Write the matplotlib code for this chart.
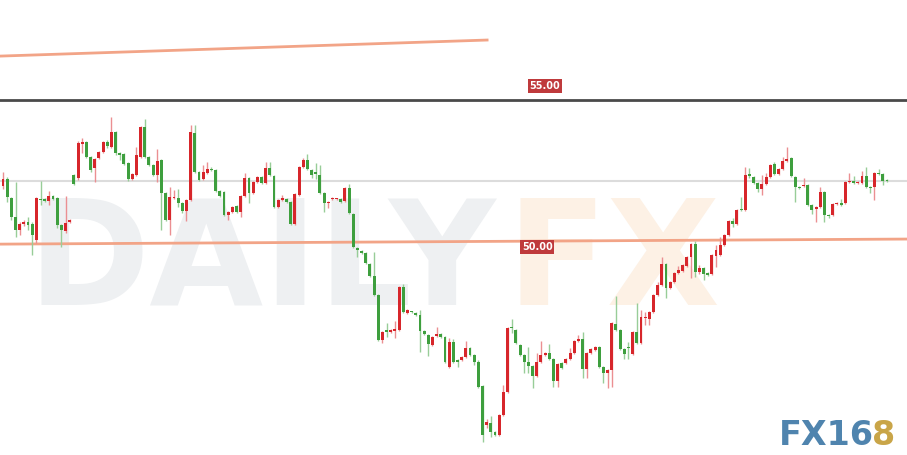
import matplotlib
matplotlib.use("Agg")
import matplotlib.pyplot as plt
import numpy as np

# OHLC values (one candle per bar, oldest first)
opens = [51.95, 52.20, 51.52, 50.85, 50.39, 50.60, 50.67, 50.60, 50.04, 51.49,
         51.49, 51.42, 51.60, 51.52, 50.57, 50.35, 50.67, 52.34, 52.23, 53.44,
         53.51, 52.98, 52.59, 52.94, 53.16, 53.51, 53.33, 53.87, 53.12, 53.09,
         52.77, 52.20, 52.34, 52.98, 54.04, 52.98, 52.70, 52.34, 52.87, 51.70,
         50.74, 51.52, 51.52, 51.35, 51.06, 51.45, 53.83, 52.45, 52.20, 52.41,
         52.55, 52.52, 51.77, 51.74, 50.92, 51.03, 51.24, 51.03, 51.60, 52.23,
         51.70, 52.09, 52.27, 52.06, 52.59, 52.30, 51.21, 51.45, 51.49, 51.38,
         50.60, 51.63, 52.62, 52.87, 52.52, 52.45, 52.34, 51.70, 51.35, 51.49,
         51.48, 51.49, 51.42, 51.88, 50.96, 49.75, 49.65, 49.57, 49.18, 48.76,
         48.09, 46.49, 46.84, 46.77, 46.80, 46.84, 48.37, 47.45, 47.50, 47.45,
         47.38, 46.81, 46.67, 46.31, 46.63, 46.70, 46.60, 45.53, 46.42, 45.78,
         45.78, 45.89, 46.21, 45.96, 45.71, 44.86, 43.48, 43.55, 43.23, 43.12,
         43.83, 44.65, 46.92, 46.84, 46.31, 45.96, 45.71, 45.57, 45.21, 45.71,
         45.96, 46.03, 45.82, 45.04, 45.67, 45.67, 45.82, 46.03, 46.45, 46.53,
         45.46, 46.03, 46.14, 46.24, 45.53, 45.32, 45.43, 47.06, 46.84, 46.17,
         46.22, 45.99, 46.77, 46.38, 47.27, 47.23, 47.48, 48.09, 48.44, 49.18,
         48.33, 48.55, 48.87, 48.94, 49.11, 49.43, 49.89, 48.90, 49.04, 48.87,
         48.83, 49.47, 49.50, 49.86, 50.21, 50.71, 50.60, 51.13, 51.10, 52.38,
         52.27, 52.06, 51.84, 52.02, 52.27, 52.73, 52.38, 52.55, 52.84, 52.94,
         52.27, 51.91, 51.95, 51.98, 51.28, 51.13, 51.21, 51.74, 50.92, 50.92,
         51.31, 51.35, 51.35, 52.09, 52.13, 52.06, 52.06, 52.30, 51.91, 51.91,
         52.41, 52.38, 52.16]
highs = [52.45, 52.27, 51.56, 52.09, 50.67, 50.74, 50.85, 50.67, 51.56, 52.13,
         51.52, 51.77, 51.63, 51.56, 50.60, 51.60, 50.78, 52.38, 53.55, 53.65,
         53.55, 53.00, 52.94, 53.20, 53.55, 53.58, 54.40, 53.90, 53.16, 53.12,
         52.80, 52.41, 53.33, 54.08, 54.33, 53.00, 52.73, 53.26, 52.91, 51.74,
         51.91, 51.81, 51.84, 51.38, 51.49, 54.11, 54.11, 52.48, 52.70, 52.80,
         52.62, 52.55, 51.81, 51.77, 51.06, 51.24, 51.28, 51.63, 52.41, 52.27,
         52.13, 52.30, 52.30, 52.80, 52.80, 52.34, 51.49, 51.63, 51.52, 51.42,
         51.70, 52.66, 52.94, 53.09, 52.55, 52.77, 52.70, 51.74, 51.42, 51.56,
         51.52, 51.52, 51.91, 52.02, 51.00, 49.79, 49.68, 49.60, 49.22, 49.61,
         48.12, 46.80, 47.09, 46.87, 47.16, 48.40, 48.48, 47.58, 47.52, 47.48,
         47.55, 46.84, 46.70, 46.63, 46.95, 46.73, 46.63, 46.56, 46.53, 45.80,
         45.92, 46.45, 46.24, 45.99, 45.78, 44.89, 43.69, 43.79, 43.26, 43.86,
         44.89, 46.95, 47.23, 46.88, 46.35, 45.99, 46.24, 45.60, 46.03, 46.45,
         46.06, 46.35, 45.85, 45.68, 45.71, 45.85, 46.21, 46.49, 46.67, 46.77,
         46.06, 46.20, 46.28, 46.28, 45.57, 45.46, 47.12, 48.05, 46.88, 46.20,
         46.42, 46.80, 47.80, 47.55, 47.48, 47.52, 48.12, 48.55, 49.43, 49.22,
         48.58, 48.90, 49.11, 49.18, 49.46, 49.93, 50.00, 49.15, 49.08, 48.90,
         49.54, 49.86, 50.14, 50.25, 50.74, 50.82, 51.13, 51.56, 52.62, 52.59,
         52.30, 52.09, 52.34, 52.41, 52.73, 52.80, 52.59, 52.98, 53.33, 52.98,
         52.30, 51.95, 52.23, 52.02, 51.31, 51.24, 51.91, 51.77, 50.95, 51.35,
         51.38, 51.49, 52.13, 52.41, 52.30, 52.13, 52.48, 52.62, 51.95, 52.45,
         52.55, 52.41, 52.20]
lows = [51.84, 51.38, 50.74, 50.14, 50.21, 50.53, 50.39, 49.50, 49.93, 51.28,
        51.38, 51.28, 51.45, 50.46, 49.79, 50.28, 50.64, 51.98, 52.16, 53.12,
        52.94, 52.45, 52.09, 52.90, 53.12, 53.30, 53.30, 53.05, 52.87, 52.70,
        52.13, 52.16, 52.30, 52.94, 52.94, 52.66, 52.30, 52.09, 50.39, 50.70,
        50.21, 51.49, 51.21, 50.99, 50.71, 51.42, 52.41, 52.13, 52.16, 52.38,
        52.50, 51.74, 51.56, 50.88, 50.74, 51.00, 51.00, 50.85, 51.56, 51.35,
        51.67, 52.06, 52.02, 52.02, 52.30, 51.17, 51.17, 51.42, 51.35, 50.57,
        50.57, 51.60, 52.59, 52.52, 52.23, 52.20, 51.67, 51.03, 51.17, 51.45,
        51.45, 51.35, 51.38, 50.95, 49.75, 49.43, 49.54, 49.18, 48.72, 48.05,
        46.45, 46.38, 46.60, 46.73, 46.56, 46.80, 47.45, 47.41, 47.44, 47.34,
        46.06, 46.66, 45.92, 46.28, 46.60, 46.56, 45.68, 45.50, 45.68, 45.53,
        45.75, 45.85, 45.92, 45.60, 44.79, 42.87, 43.37, 43.05, 43.09, 43.09,
        43.80, 44.62, 46.74, 46.35, 45.92, 45.32, 45.32, 44.79, 45.18, 45.68,
        45.92, 45.78, 44.82, 44.82, 45.46, 45.64, 45.78, 46.00, 46.42, 45.14,
        45.14, 46.00, 46.10, 45.50, 44.96, 44.79, 44.82, 46.80, 46.14, 45.82,
        45.82, 45.96, 46.35, 46.35, 47.02, 47.02, 47.45, 48.05, 48.40, 47.98,
        48.30, 48.52, 48.84, 48.90, 49.08, 48.69, 48.72, 48.83, 48.62, 48.76,
        48.80, 49.08, 49.47, 49.82, 50.18, 50.50, 50.57, 51.06, 51.06, 52.23,
        52.02, 51.74, 51.63, 51.98, 52.23, 52.34, 52.34, 52.52, 52.80, 52.27,
        51.38, 51.84, 51.91, 51.24, 50.96, 50.67, 51.17, 50.67, 50.80, 50.88,
        51.28, 51.24, 51.31, 52.06, 52.02, 52.02, 52.02, 51.88, 51.70, 51.45,
        52.34, 51.98, 52.09]
closes = [52.20, 51.56, 50.85, 50.39, 50.60, 50.67, 50.57, 50.21, 51.52, 51.45,
          51.42, 51.60, 51.49, 50.57, 50.39, 50.64, 50.74, 52.02, 53.48, 53.51,
          52.98, 52.52, 52.91, 53.16, 53.51, 53.37, 53.87, 53.12, 53.05, 52.73,
          52.20, 52.38, 53.05, 54.04, 52.98, 52.70, 52.34, 52.84, 51.70, 50.74,
          51.56, 51.56, 51.35, 51.06, 51.45, 53.87, 52.45, 52.16, 52.45, 52.55,
          52.53, 51.77, 51.60, 50.92, 51.03, 51.21, 51.03, 51.60, 52.23, 51.70,
          52.09, 52.27, 52.06, 52.59, 52.34, 51.21, 51.45, 51.52, 51.38, 50.60,
          51.67, 52.62, 52.87, 52.55, 52.34, 52.38, 51.70, 51.35, 51.38, 51.52,
          51.50, 51.38, 51.88, 50.99, 49.79, 49.68, 49.57, 49.22, 48.76, 48.09,
          46.49, 46.77, 46.77, 46.84, 46.87, 48.37, 47.48, 47.55, 47.47, 47.38,
          46.81, 46.70, 46.35, 46.60, 46.70, 46.60, 45.71, 46.42, 45.71, 45.71,
          45.89, 46.21, 45.96, 45.71, 44.82, 43.12, 43.58, 43.23, 43.12, 43.83,
          44.65, 46.92, 46.90, 46.38, 45.96, 45.71, 45.57, 45.21, 45.71, 45.96,
          46.03, 45.82, 45.04, 45.64, 45.50, 45.82, 46.03, 46.45, 46.53, 45.46,
          46.03, 46.17, 46.24, 45.53, 45.32, 45.43, 47.09, 46.84, 46.17, 45.99,
          46.20, 46.77, 46.38, 47.30, 47.28, 47.48, 48.09, 48.44, 49.18, 48.33,
          48.55, 48.87, 48.97, 49.15, 49.43, 49.89, 48.90, 49.04, 48.83, 48.80,
          49.50, 49.68, 49.86, 50.21, 50.71, 50.60, 51.10, 51.10, 52.34, 52.30,
          52.06, 51.84, 52.02, 52.27, 52.70, 52.38, 52.55, 52.84, 52.91, 52.30,
          51.91, 51.88, 51.98, 51.28, 51.10, 51.21, 51.74, 50.92, 50.88, 51.31,
          51.35, 51.28, 52.09, 52.13, 52.06, 52.09, 52.30, 51.91, 51.88, 52.41,
          52.38, 52.13, 52.13]

# horizontal levels and trend lines
level_top = 55.00
level_mid = 52.13
trend_low = [49.89, 50.07]        # left / right end
trend_upper = [56.56, 57.13]      # left / right end (stops mid-chart)
level_labels = ["55.00", "50.00"]

UP = "#d7262b"
DOWN = "#3e9f3e"
UP_WICK = "#eb8f92"
DOWN_WICK = "#98cd98"

fig = plt.figure(figsize=(9.07, 4.55), dpi=100)
ax = fig.add_axes([0, 0, 1, 1])
ax.set_xlim(-0.72, 216.8)
ax.set_ylim(42.41, 58.55)
ax.axis("off")

# watermark, behind everything else in the axes
ax.text(0.030, 0.330, "DAILY", fontsize=106, fontweight="bold", color="#eef0f2",
        ha="left", va="baseline", transform=ax.transAxes, zorder=0)
ax.text(0.558, 0.330, "FX", fontsize=106, fontweight="bold", color="#fdf1e5",
        ha="left", va="baseline", transform=ax.transAxes, zorder=0)

n = len(opens)
x = np.arange(n)
o = np.array(opens)
c = np.array(closes)
h = np.array(highs)
l = np.array(lows)
up = c >= o

# lines
ax.axhline(level_mid, color="#dcdcdc", lw=1.5, zorder=1)
ax.axhline(level_top, color="#4a4a4a", lw=2, zorder=1)
ax.plot([-0.72, 216.8], trend_low, color="#f2a487", lw=2, zorder=1)
ax.plot([-0.72, 116.1], trend_upper, color="#f2a487", lw=2, zorder=1)

ax.vlines(x[up], l[up], h[up], color=UP_WICK, lw=1, zorder=2)
ax.vlines(x[~up], l[~up], h[~up], color=DOWN_WICK, lw=1, zorder=2)
body = np.maximum(np.abs(c - o), 0.04)
bottom = np.minimum(o, c)
ax.bar(x[up], body[up], bottom=bottom[up], width=0.7, color=UP, lw=0, zorder=3)
ax.bar(x[~up], body[~up], bottom=bottom[~up], width=0.7, color=DOWN, lw=0, zorder=3)

box = dict(boxstyle="square,pad=0.2", fc="#bf3a3c", ec="none")
ax.text(130.0, 55.50, level_labels[0], color="white", fontsize=7, fontweight="bold",
        ha="center", va="center", bbox=box, zorder=4)
ax.text(128.1, 49.80, level_labels[1], color="white", fontsize=7, fontweight="bold",
        ha="center", va="center", bbox=box, zorder=4)

# FX168 logo
ax.text(0.963, 0.022, "FX16", fontsize=24, fontweight="bold", color="#4f84ae",
        ha="right", va="baseline", transform=ax.transAxes, zorder=4)
ax.text(0.961, 0.022, "8", fontsize=24, fontweight="bold", color="#c9a548",
        ha="left", va="baseline", transform=ax.transAxes, zorder=4)

fig.savefig("out.png", dpi=100)
